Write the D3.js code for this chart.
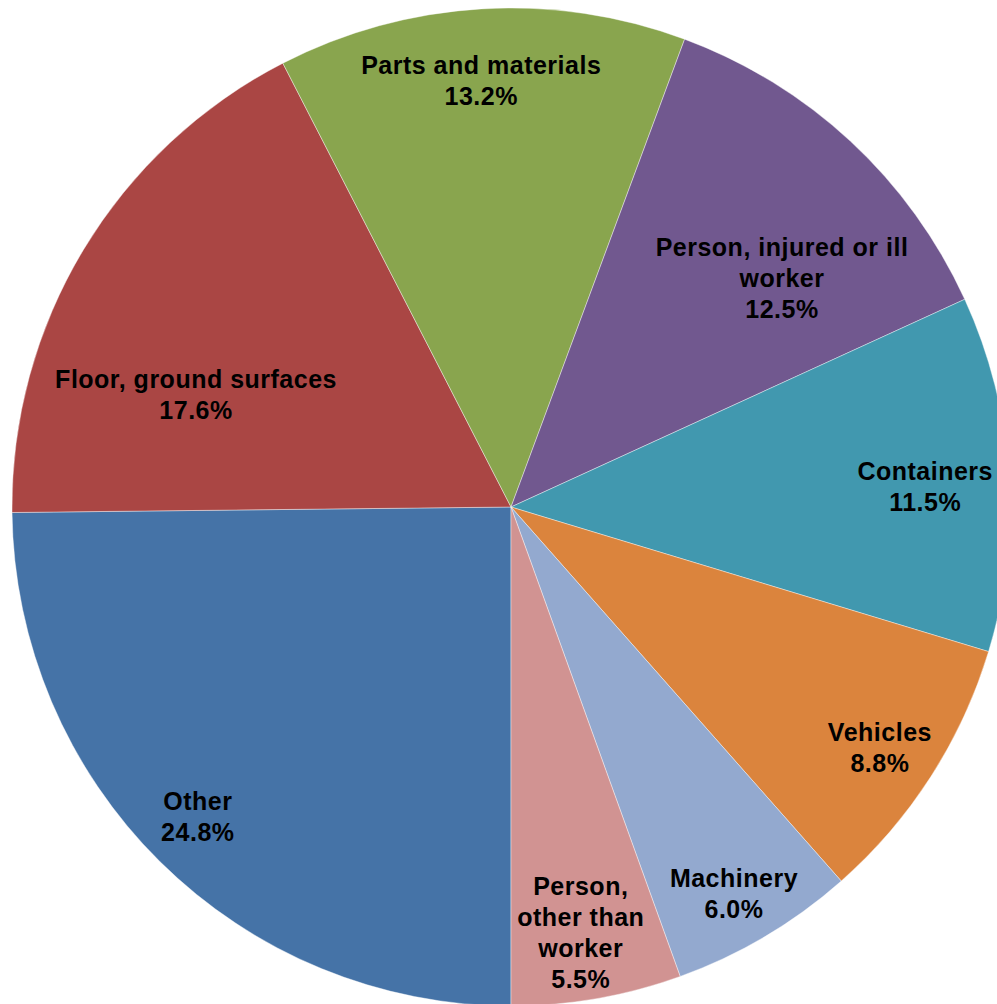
<!DOCTYPE html>
<html>
<head>
<meta charset="utf-8">
<script src="https://cdn.jsdelivr.net/npm/d3@7"></script>
<style>
  body { margin: 0; background: #fff; }
  svg { display: block; }
  .lbl { font-family: "Liberation Sans", Arial, sans-serif; font-weight: bold; font-size: 25px; letter-spacing: 0.5px; fill: #000; }
</style>
</head>
<body>
<div id="chart"></div>
<script>
// slice data, clockwise starting from straight down
var categories = ["Other", "Floor, ground surfaces", "Parts and materials", "Person, injured or ill worker",
                  "Containers", "Vehicles", "Machinery", "Person, other than worker"];
var values = [24.8, 17.6, 13.2, 12.5, 11.5, 8.8, 6.0, 5.5];
var labelLines = [["Other"], ["Floor, ground surfaces"], ["Parts and materials"], ["Person, injured or ill", "worker"],
                  ["Containers"], ["Vehicles"], ["Machinery"], ["Person,", "other than", "worker"]];

var colors = ["#4573A7", "#AA4644", "#89A54E", "#71588F", "#4198AF", "#DB843D", "#93A9CF", "#D19392"];

// label placement: [angle in degrees from 12 o'clock, fraction of radius]
var labelSpot = {
  "Other": [225.3, 0.883],
  "Floor, ground surfaces": [289.6, 0.670],
  "Parts and materials": [356.0, 0.856],
  "Person, injured or ill worker": [49.8, 0.711],
  "Containers": [87.2, 0.831],
  "Vehicles": [123.15, 0.883],
  "Machinery": [150.05, 0.895],
  "Person, other than worker": [170.7, 0.865]
};

var svgWidth = 997;
var svgHeight = 1004;
var cx = 511, cy = 507, radius = 499;
var lineH = 31;

var svg = d3.select("#chart")
  .append("svg")
  .attr("width", svgWidth)
  .attr("height", svgHeight);

var g = svg.append("g")
  .attr("transform", `translate(${cx}, ${cy})`);

var data = categories.map(function(c, i) {
  return { name: c, value: values[i], lines: labelLines[i], color: colors[i] };
});

var pie = d3.pie()
  .sort(null)
  .value(d => d.value)
  .startAngle(Math.PI)
  .endAngle(3 * Math.PI);

var arc = d3.arc()
  .innerRadius(0)
  .outerRadius(radius);

var arcs = pie(data);

g.selectAll("path.slice")
  .data(arcs)
  .enter()
  .append("path")
  .attr("class", "slice")
  .attr("d", arc)
  .attr("fill", d => d.data.color)
  .attr("stroke", "#ffffff")
  .attr("stroke-opacity", 0.5)
  .attr("stroke-width", 0.8);

// data labels
var labels = g.selectAll("text.lbl")
  .data(arcs)
  .enter()
  .append("text")
  .attr("class", "lbl")
  .attr("text-anchor", "middle")
  .attr("transform", function(d) {
    var s = labelSpot[d.data.name];
    var a = s[0] * Math.PI / 180;
    var r = s[1] * radius;
    return `translate(${r * Math.sin(a)}, ${-r * Math.cos(a)})`;
  });

labels.each(function(d) {
  var lines = d.data.lines.concat([d.data.value.toFixed(1) + "%"]);
  var n = lines.length;
  var t = d3.select(this);
  lines.forEach(function(line, i) {
    t.append("tspan")
      .attr("x", 0)
      .attr("y", (i - (n - 1) / 2) * lineH)
      .attr("dy", "0.36em")
      .text(line);
  });
});
</script>
</body>
</html>
